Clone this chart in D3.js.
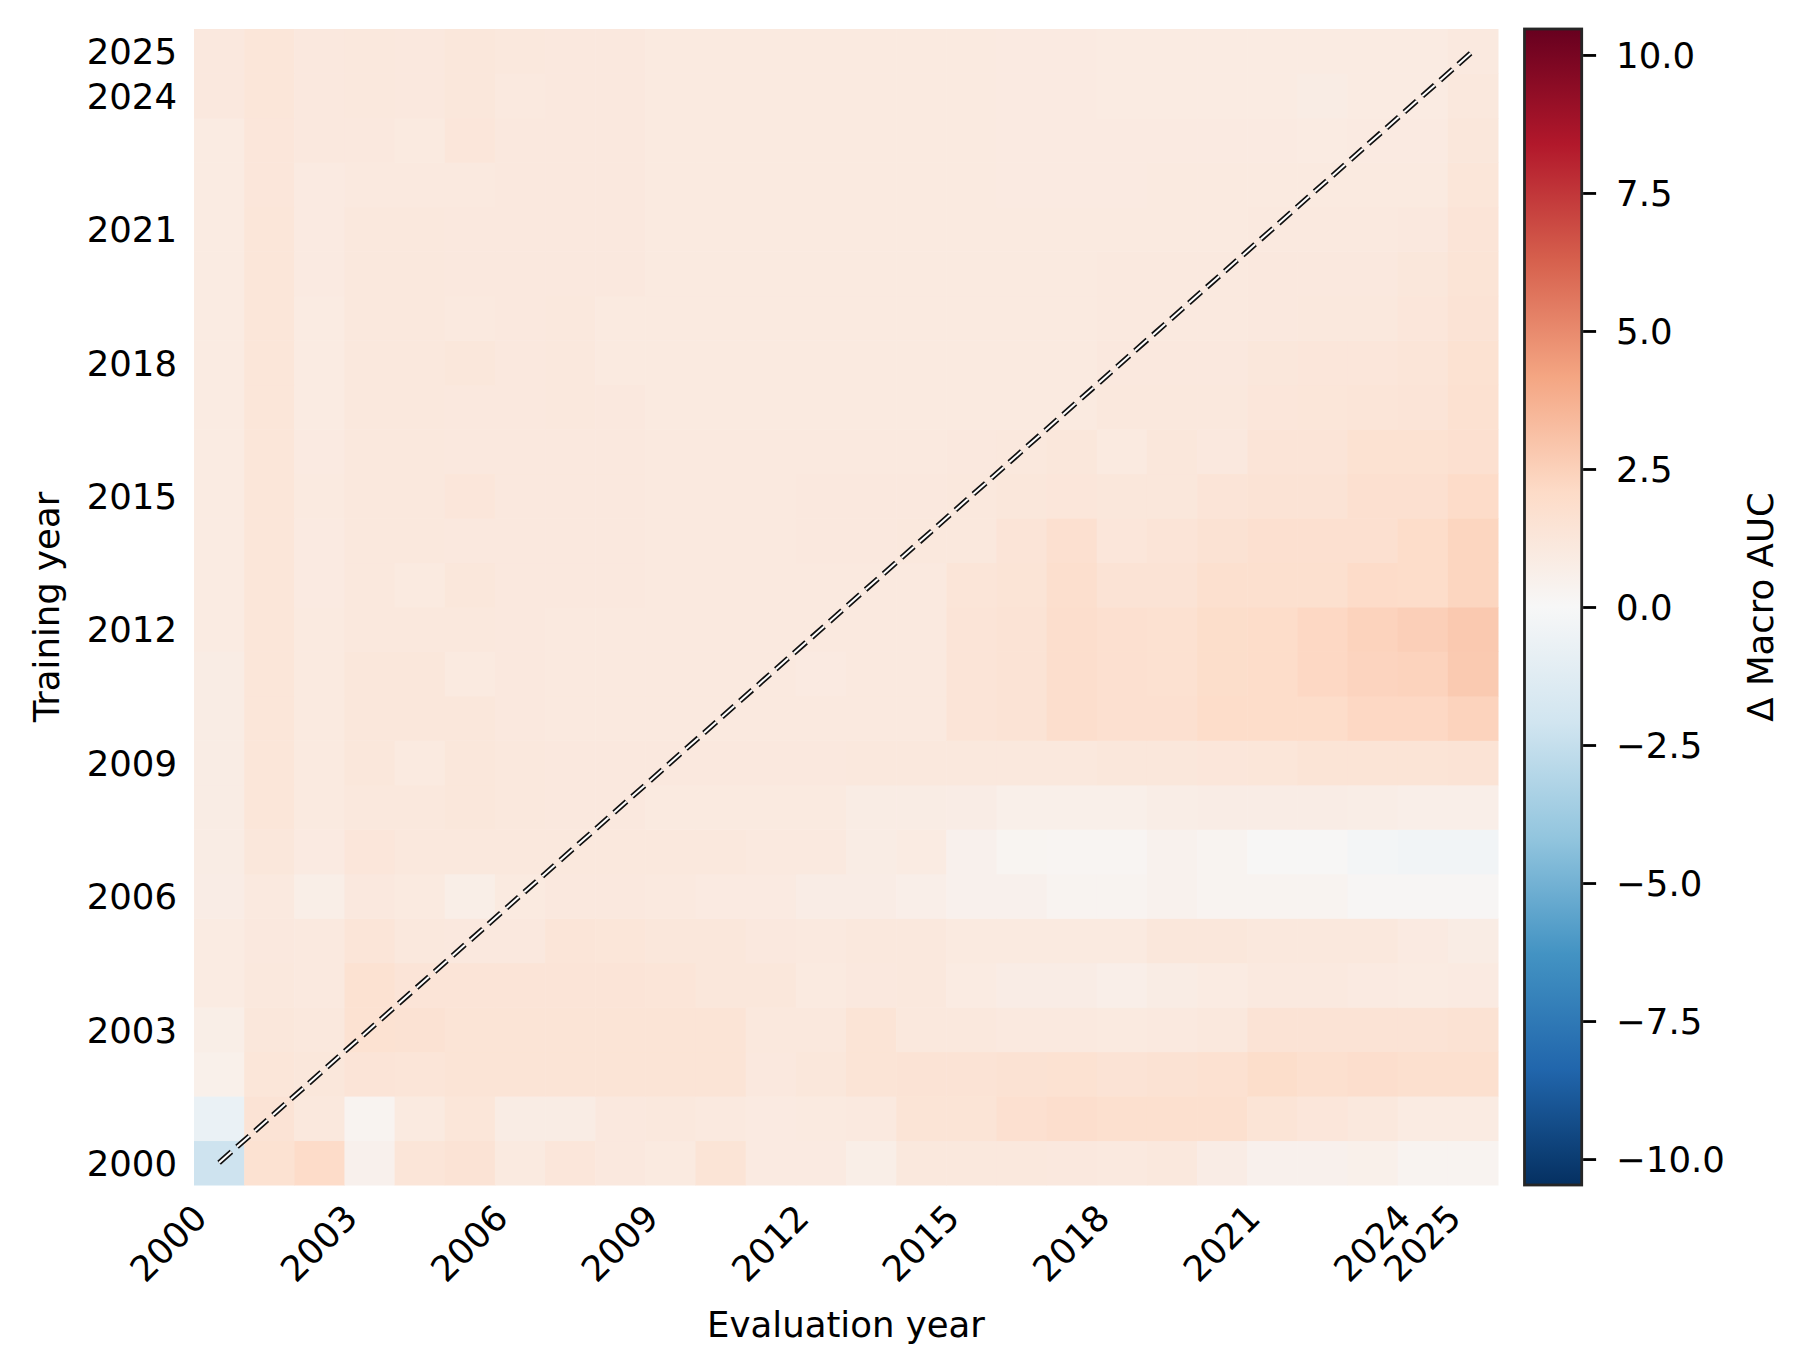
<!DOCTYPE html>
<html>
<head>
<meta charset="utf-8">
<script src="https://cdn.jsdelivr.net/npm/d3@7"></script>
<style>
    body { margin: 0; background: #fff; }
    text { font-family: "DejaVu Sans", sans-serif; }
</style>
</head>
<body>
<svg id="chart" width="1811" height="1346"></svg>
<script>
// years on both axes (evaluation = columns, training = rows)
const years = [2000, 2001, 2002, 2003, 2004, 2005, 2006, 2007, 2008, 2009, 2010, 2011, 2012,
    2013, 2014, 2015, 2016, 2017, 2018, 2019, 2020, 2021, 2022, 2023, 2024, 2025];
const tickYears = [2000, 2003, 2006, 2009, 2012, 2015, 2018, 2021, 2024, 2025];
const cbarTicks = [-10, -7.5, -5, -2.5, 0, 2.5, 5, 7.5, 10];
const cbarLimit = 10.47;

// matplotlib RdBu, reversed below for RdBu_r
const rdbu = ["#67001f", "#b2182b", "#d6604d", "#f4a582", "#fddbc7", "#f7f7f7",
    "#d1e5f0", "#92c5de", "#4393c3", "#2166ac", "#053061"];

// delta macro AUC, one row per training year (2000 first), columns = evaluation year 2000..2025
const deltaAuc = [
    [-2.2, 1.6, 2.0, 0.5, 1.35, 1.5, 1.0, 1.25, 1.1, 1.0, 1.45, 0.95, 0.95, 0.7, 1.15, 1.15, 1.15, 1.1, 1.05, 1.15, 0.8, 0.5, 0.5, 0.55, 0.3, 0.3],
    [-0.7, 1.5, 1.15, 0.3, 1.0, 1.3, 0.85, 0.85, 1.1, 1.15, 1.05, 0.95, 1.0, 1.05, 1.45, 1.45, 1.7, 1.85, 1.75, 1.75, 1.75, 1.45, 1.25, 1.15, 0.9, 0.9],
    [0.55, 1.3, 1.2, 1.4, 1.35, 1.45, 1.45, 1.45, 1.45, 1.45, 1.45, 1.1, 1.2, 1.45, 1.5, 1.5, 1.55, 1.6, 1.5, 1.55, 1.65, 1.9, 1.75, 1.85, 1.75, 1.75],
    [0.7, 1.2, 1.15, 1.6, 1.55, 1.45, 1.45, 1.45, 1.45, 1.45, 1.45, 1.15, 1.15, 1.45, 1.15, 1.15, 1.05, 1.05, 1.0, 1.05, 1.15, 1.5, 1.5, 1.5, 1.5, 1.55],
    [0.9, 1.15, 1.05, 1.6, 1.4, 1.4, 1.4, 1.4, 1.4, 1.35, 1.2, 1.2, 1.0, 1.1, 1.15, 0.9, 0.8, 0.8, 0.65, 0.85, 0.9, 1.05, 1.05, 0.95, 0.9, 0.95],
    [0.9, 1.1, 1.05, 1.35, 1.15, 1.1, 1.1, 1.35, 1.3, 1.2, 1.2, 1.1, 1.05, 1.15, 1.15, 1.0, 1.0, 1.0, 1.0, 1.2, 1.2, 1.15, 1.15, 1.15, 0.95, 0.85],
    [0.8, 1.05, 0.7, 1.1, 1.0, 0.7, 1.0, 1.1, 1.1, 1.05, 0.95, 0.95, 0.8, 0.8, 0.65, 0.5, 0.5, 0.3, 0.3, 0.45, 0.3, 0.3, 0.3, 0.15, 0.15, 0.15],
    [0.85, 1.2, 0.95, 1.25, 1.15, 1.15, 1.15, 1.15, 1.15, 1.15, 1.15, 1.05, 1.05, 0.85, 0.9, 0.5, 0.25, 0.2, 0.2, 0.45, 0.3, 0.1, 0.1, -0.2, -0.35, -0.35],
    [0.85, 1.3, 1.0, 1.15, 1.15, 1.2, 1.15, 1.1, 1.1, 1.0, 1.0, 1.0, 1.0, 0.85, 0.85, 0.8, 0.6, 0.6, 0.6, 0.75, 0.8, 0.8, 0.8, 0.75, 0.65, 0.65],
    [0.85, 1.3, 1.0, 1.2, 1.0, 1.2, 1.15, 1.1, 1.1, 1.1, 1.1, 1.1, 1.1, 1.15, 1.15, 1.15, 1.15, 1.15, 1.2, 1.2, 1.25, 1.3, 1.45, 1.45, 1.45, 1.5],
    [0.85, 1.3, 1.0, 1.2, 1.2, 1.2, 1.1, 1.05, 1.05, 1.05, 1.05, 1.05, 1.05, 1.05, 1.05, 1.4, 1.5, 1.85, 1.7, 1.7, 1.95, 1.95, 1.95, 2.2, 2.2, 2.4],
    [0.85, 1.3, 1.0, 1.2, 1.2, 1.0, 1.1, 1.05, 1.05, 1.05, 1.05, 1.05, 0.95, 1.05, 1.05, 1.4, 1.5, 1.85, 1.7, 1.65, 1.9, 1.95, 2.2, 2.35, 2.4, 2.75],
    [0.9, 1.3, 1.0, 1.15, 1.15, 1.15, 1.1, 1.05, 1.05, 1.05, 1.05, 1.05, 1.05, 1.05, 1.05, 1.4, 1.5, 1.85, 1.7, 1.65, 1.9, 1.95, 2.2, 2.4, 2.55, 2.8],
    [0.9, 1.3, 0.95, 1.15, 1.0, 1.2, 1.1, 1.1, 1.1, 1.05, 1.05, 1.05, 1.05, 1.05, 1.05, 1.35, 1.45, 1.8, 1.5, 1.5, 1.75, 1.75, 1.75, 2.0, 1.95, 2.3],
    [0.9, 1.3, 0.95, 1.15, 1.15, 1.1, 1.1, 1.1, 1.1, 1.05, 1.05, 1.05, 1.1, 1.1, 1.15, 1.15, 1.4, 1.7, 1.25, 1.4, 1.55, 1.7, 1.7, 1.7, 1.95, 2.3],
    [0.9, 1.3, 1.0, 1.15, 1.15, 1.25, 1.1, 1.1, 1.1, 1.05, 1.05, 1.05, 1.1, 1.1, 1.1, 1.15, 1.2, 1.25, 1.2, 1.2, 1.4, 1.5, 1.5, 1.7, 1.7, 2.0],
    [0.9, 1.3, 0.95, 1.15, 1.15, 1.1, 1.1, 1.1, 1.1, 1.05, 1.05, 1.05, 1.05, 1.05, 1.05, 1.1, 1.15, 1.2, 1.0, 1.2, 1.1, 1.4, 1.4, 1.6, 1.6, 1.7],
    [0.9, 1.3, 0.9, 1.15, 1.15, 1.1, 1.1, 1.15, 1.1, 1.0, 1.0, 1.0, 1.0, 1.0, 1.0, 1.0, 1.0, 1.0, 1.15, 1.15, 1.15, 1.25, 1.3, 1.35, 1.4, 1.65],
    [0.9, 1.3, 0.9, 1.15, 1.15, 1.2, 1.1, 1.15, 1.0, 1.0, 1.0, 1.0, 1.0, 1.0, 1.0, 1.0, 1.0, 1.0, 1.1, 1.1, 1.1, 1.2, 1.25, 1.25, 1.35, 1.6],
    [0.9, 1.3, 0.9, 1.15, 1.15, 1.05, 1.1, 1.15, 1.0, 1.0, 1.0, 1.0, 1.0, 1.0, 1.0, 1.0, 1.0, 1.0, 1.05, 1.05, 1.05, 1.1, 1.15, 1.15, 1.25, 1.5],
    [0.9, 1.3, 0.95, 1.15, 1.15, 1.1, 1.1, 1.1, 1.1, 1.0, 1.0, 1.0, 1.0, 1.0, 1.0, 1.0, 1.0, 1.0, 1.05, 1.05, 1.05, 1.1, 1.1, 1.1, 1.2, 1.45],
    [0.9, 1.3, 0.95, 1.15, 1.15, 1.1, 1.1, 1.1, 1.1, 1.0, 1.0, 1.0, 1.0, 1.0, 1.0, 1.0, 1.0, 1.0, 1.0, 1.0, 1.0, 1.05, 1.05, 1.05, 1.1, 1.4],
    [0.9, 1.25, 0.95, 1.05, 1.05, 1.05, 1.1, 1.1, 1.1, 1.0, 1.0, 1.0, 1.0, 1.0, 1.0, 1.0, 0.95, 0.95, 0.95, 1.0, 1.0, 1.0, 1.0, 1.0, 1.0, 1.3],
    [0.9, 1.25, 1.1, 1.1, 1.0, 1.25, 1.1, 1.1, 1.1, 1.0, 1.0, 1.0, 1.0, 1.0, 1.0, 1.0, 0.95, 0.95, 0.95, 0.95, 0.95, 0.95, 0.9, 0.95, 0.95, 1.2],
    [1.1, 1.3, 1.1, 1.15, 1.1, 1.2, 1.05, 1.1, 1.1, 1.0, 1.0, 1.0, 1.0, 1.0, 1.0, 1.0, 0.95, 0.95, 0.9, 0.9, 0.9, 0.9, 0.85, 0.9, 0.9, 1.15],
    [1.1, 1.3, 1.1, 1.15, 1.1, 1.2, 1.15, 1.1, 1.1, 1.0, 1.0, 1.0, 1.0, 1.0, 1.0, 1.0, 0.95, 0.95, 0.9, 0.9, 0.9, 0.9, 0.9, 0.9, 0.9, 1.05]
];

const fontSize = 35.5;
const plot = { left: 194, right: 1498, top: 29, bottom: 1185 };
const cbar = { left: 1524.5, right: 1581.7 };

const svg = d3.select("#chart");

const x = d3.scaleBand()
    .domain(years)
    .range([plot.left, plot.right]);

const y = d3.scaleBand()
    .domain(years.slice().reverse())
    .range([plot.top, plot.bottom]);

const rdbuR = rdbu.slice().reverse();
const color = d3.scaleLinear()
    .domain(rdbuR.map((c, i) => -cbarLimit + i * 2 * cbarLimit / (rdbuR.length - 1)))
    .range(rdbuR)
    .interpolate(d3.interpolateRgb)
    .clamp(true);

// cells
const cells = [];
deltaAuc.forEach((row, ti) => {
    row.forEach((v, ei) => cells.push({ train: years[ti], evalYear: years[ei], value: v }));
});

svg.append("g")
    .selectAll("rect")
    .data(cells)
    .enter()
    .append("rect")
    .attr("x", d => x(d.evalYear))
    .attr("y", d => y(d.train))
    .attr("width", x.bandwidth() + 0.5)
    .attr("height", y.bandwidth() + 0.5)
    .attr("fill", d => color(d.value));

// diagonal (train year == eval year), white dashes with a dark edge
const diag = [years[0], years[years.length - 1]].map(yr => [
    x(yr) + x.bandwidth() / 2,
    y(yr) + y.bandwidth() / 2
]);
const diagLine = d3.line();
svg.append("path")
    .attr("d", diagLine(diag))
    .attr("fill", "none")
    .attr("stroke", "#111")
    .attr("stroke-width", 5.4)
    .attr("stroke-dasharray", "16.5,7.5");
svg.append("path")
    .attr("d", diagLine(diag))
    .attr("fill", "none")
    .attr("stroke", "#fff")
    .attr("stroke-width", 2.0)
    .attr("stroke-dasharray", "16.5,7.5");

// axes
const xAxis = svg.append("g")
    .attr("transform", `translate(0, ${plot.bottom})`)
    .call(d3.axisBottom(x).tickValues(tickYears).tickSize(0).tickPadding(0));
xAxis.select(".domain").remove();
xAxis.selectAll("text")
    .attr("y", 0)
    .attr("dy", 0)
    .attr("text-anchor", "end")
    .attr("transform", "translate(-10, 35) rotate(-45)");

const yAxis = svg.append("g")
    .attr("transform", `translate(${plot.left}, 0)`)
    .call(d3.axisLeft(y).tickValues(tickYears).tickSize(0).tickPadding(17));
yAxis.select(".domain").remove();
yAxis.selectAll("text").attr("dy", "0.37em");

[xAxis, yAxis].forEach(g => g
    .attr("font-size", fontSize)
    .attr("font-family", "DejaVu Sans")
    .selectAll("text").attr("fill", "#000"));

svg.append("text")
    .attr("x", (plot.left + plot.right) / 2)
    .attr("y", 1337)
    .attr("text-anchor", "middle")
    .attr("font-size", fontSize)
    .text("Evaluation year");

svg.append("text")
    .attr("transform", `translate(59, ${(plot.top + plot.bottom) / 2}) rotate(-90)`)
    .attr("text-anchor", "middle")
    .attr("font-size", fontSize)
    .text("Training year");

// colorbar
const cbY = d3.scaleLinear()
    .domain([-cbarLimit, cbarLimit])
    .range([plot.bottom, plot.top]);

const grad = svg.append("defs")
    .append("linearGradient")
    .attr("id", "cbar-grad")
    .attr("x1", 0).attr("y1", 1).attr("x2", 0).attr("y2", 0);
grad.selectAll("stop")
    .data(color.domain())
    .enter()
    .append("stop")
    .attr("offset", d => (d + cbarLimit) / (2 * cbarLimit))
    .attr("stop-color", d => color(d));

svg.append("rect")
    .attr("x", cbar.left)
    .attr("y", plot.top)
    .attr("width", cbar.right - cbar.left)
    .attr("height", plot.bottom - plot.top)
    .attr("fill", "url(#cbar-grad)")
    .attr("stroke", "#262626")
    .attr("stroke-width", 2.8);

const cbAxis = svg.append("g")
    .attr("transform", `translate(${cbar.right + 1.4}, 0)`)
    .call(d3.axisRight(cbY)
        .tickValues(cbarTicks)
        .tickSize(13)
        .tickPadding(20)
        .tickFormat(d => (d < 0 ? "\u2212" : "") + Math.abs(d).toFixed(1)));
cbAxis.select(".domain").remove();
cbAxis.attr("font-size", fontSize).attr("font-family", "DejaVu Sans");
cbAxis.selectAll("line").attr("stroke", "#000").attr("stroke-width", 2.8);
cbAxis.selectAll("text").attr("fill", "#000").attr("dy", "0.36em");

svg.append("text")
    .attr("transform", `translate(1773, ${(plot.top + plot.bottom) / 2}) rotate(-90)`)
    .attr("text-anchor", "middle")
    .attr("font-size", fontSize)
    .text("\u0394 Macro AUC");
</script>
</body>
</html>
